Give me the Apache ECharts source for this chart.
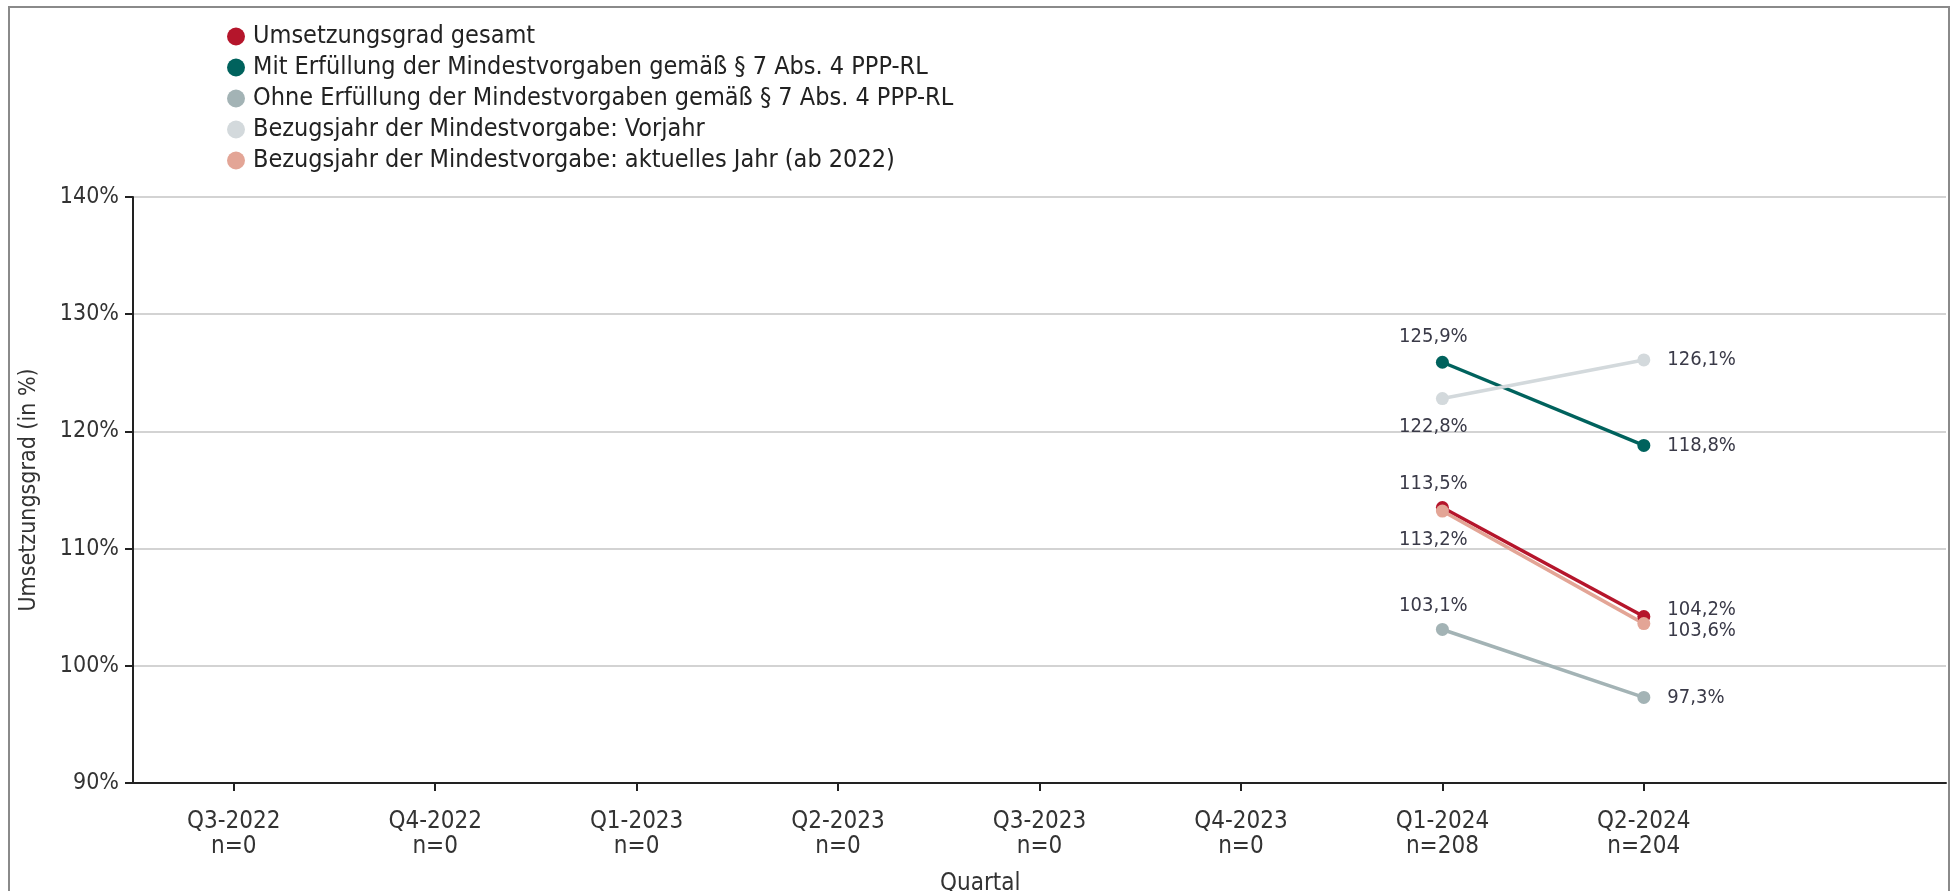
<!DOCTYPE html>
<html>
<head>
<meta charset="utf-8">
<script src="https://cdn.jsdelivr.net/npm/echarts@6/dist/echarts.min.js"></script>
<style>
html,body{margin:0;padding:0;background:#fff;}
#frame{position:absolute;left:8px;top:6px;width:1938px;height:900px;border:2px solid #8a8a8a;border-bottom:none;}
#chart{position:absolute;left:0;top:0;width:1952px;height:891px;}
</style>
</head>
<body>
<div id="frame"></div>
<div id="chart"></div>
<script>
const categories = ['Q3-2022','Q4-2022','Q1-2023','Q2-2023','Q3-2023','Q4-2023','Q1-2024','Q2-2024',''];
const counts = ['0','0','0','0','0','0','208','204',''];
const seriesNames = [
  'Umsetzungsgrad gesamt',
  'Mit Erfüllung der Mindestvorgaben gemäß § 7 Abs. 4 PPP-RL',
  'Ohne Erfüllung der Mindestvorgaben gemäß § 7 Abs. 4 PPP-RL',
  'Bezugsjahr der Mindestvorgabe: Vorjahr',
  'Bezugsjahr der Mindestvorgabe: aktuelles Jahr (ab 2022)'
];
const gesamt      = [null,null,null,null,null,null,113.5,104.2,null];
const mitErf      = [null,null,null,null,null,null,125.9,118.8,null];
const ohneErf     = [null,null,null,null,null,null,103.1,97.3,null];
const vorjahr     = [null,null,null,null,null,null,122.8,126.1,null];
const aktuell     = [null,null,null,null,null,null,113.2,103.6,null];
const yTicks = [90,100,110,120,130,140];

const FONT = '"DejaVu Sans Condensed", "Liberation Sans Narrow", sans-serif';
const colors = ['#b5152b','#00625d','#a3b3b5','#d3d9dc','#e3a596'];
const firstPos = ['top','top','top','bottom','bottom'];
const firstDist = [7,9,7,12,12];
const secondOffset = [[0,-7],[0,0],[0,0],[0,0],[0,7]];
const allData = [gesamt, mitErf, ohneErf, vorjahr, aktuell];

function fmt(v){ return v.toFixed(1).replace('.', ',') + '%'; }

const series = allData.map((arr, si) => {
  let seen = 0;
  return {
    name: seriesNames[si],
    type: 'line',
    symbol: 'circle',
    symbolSize: 13,
    showSymbol: true,
    connectNulls: false,
    lineStyle: { width: 3.5, color: colors[si] },
    itemStyle: { color: colors[si] },
    emphasis: { disabled: true },
    data: arr.map((v, i) => {
      if (v === null) return null;
      const first = seen === 0; seen++;
      return {
        value: v,
        label: first
          ? { show: true, position: firstPos[si], distance: firstDist[si], offset: [-9, 0] }
          : { show: true, position: 'right', distance: 17, offset: secondOffset[si] }
      };
    }),
    label: {
      formatter: p => fmt(p.value),
      color: '#3a3a48',
      fontFamily: FONT,
      fontSize: 20
    }
  };
});

const chart = echarts.init(document.getElementById('chart'), null, { renderer: 'canvas' });
chart.setOption({
  animation: false,
  backgroundColor: 'transparent',
  color: colors,
  legend: {
    orient: 'vertical',
    left: 222,
    top: 19,
    icon: 'circle',
    itemWidth: 18,
    itemHeight: 18,
    itemGap: 6,
    selectedMode: false,
    textStyle: { fontFamily: FONT, fontSize: 25, color: '#222', padding: [0,0,0,3] },
    data: seriesNames
  },
  grid: { left: 133, right: 6, top: 197, bottom: 108, containLabel: false },
  xAxis: {
    type: 'category',
    data: categories,
    boundaryGap: true,
    axisLine: { show: true, lineStyle: { color: '#222', width: 2 } },
    axisTick: { show: true, alignWithLabel: true, length: 8, lineStyle: { color: '#222', width: 2 },
      interval: (i, v) => v !== '' },
    axisLabel: {
      interval: 0,
      margin: 26,
      lineHeight: 25,
      fontFamily: FONT,
      fontSize: 24,
      color: '#333',
      formatter: (v, i) => v === '' ? '' : v + '\nn=' + counts[i]
    },
    splitLine: { show: false }
  },
  yAxis: {
    type: 'value',
    min: yTicks[0],
    max: yTicks[yTicks.length - 1],
    interval: 10,
    name: 'Umsetzungsgrad (in %)',
    nameLocation: 'middle',
    nameGap: 92,
    nameTextStyle: { fontFamily: FONT, fontSize: 23, color: '#333' },
    axisLine: { show: true, lineStyle: { color: '#222', width: 2 } },
    axisTick: { show: true, length: 8, lineStyle: { color: '#222', width: 2 } },
    axisLabel: { margin: 14, fontFamily: FONT, fontSize: 23, color: '#333', formatter: v => v + '%' },
    splitLine: { show: true, lineStyle: { color: '#c4c4c4', width: 1.5 } }
  },
  graphic: [{
    type: 'text',
    left: 940,
    top: 872,
    style: { text: 'Quartal', fontFamily: FONT, fontSize: 24, fill: '#333' }
  }],
  series: series
});
</script>
</body>
</html>
